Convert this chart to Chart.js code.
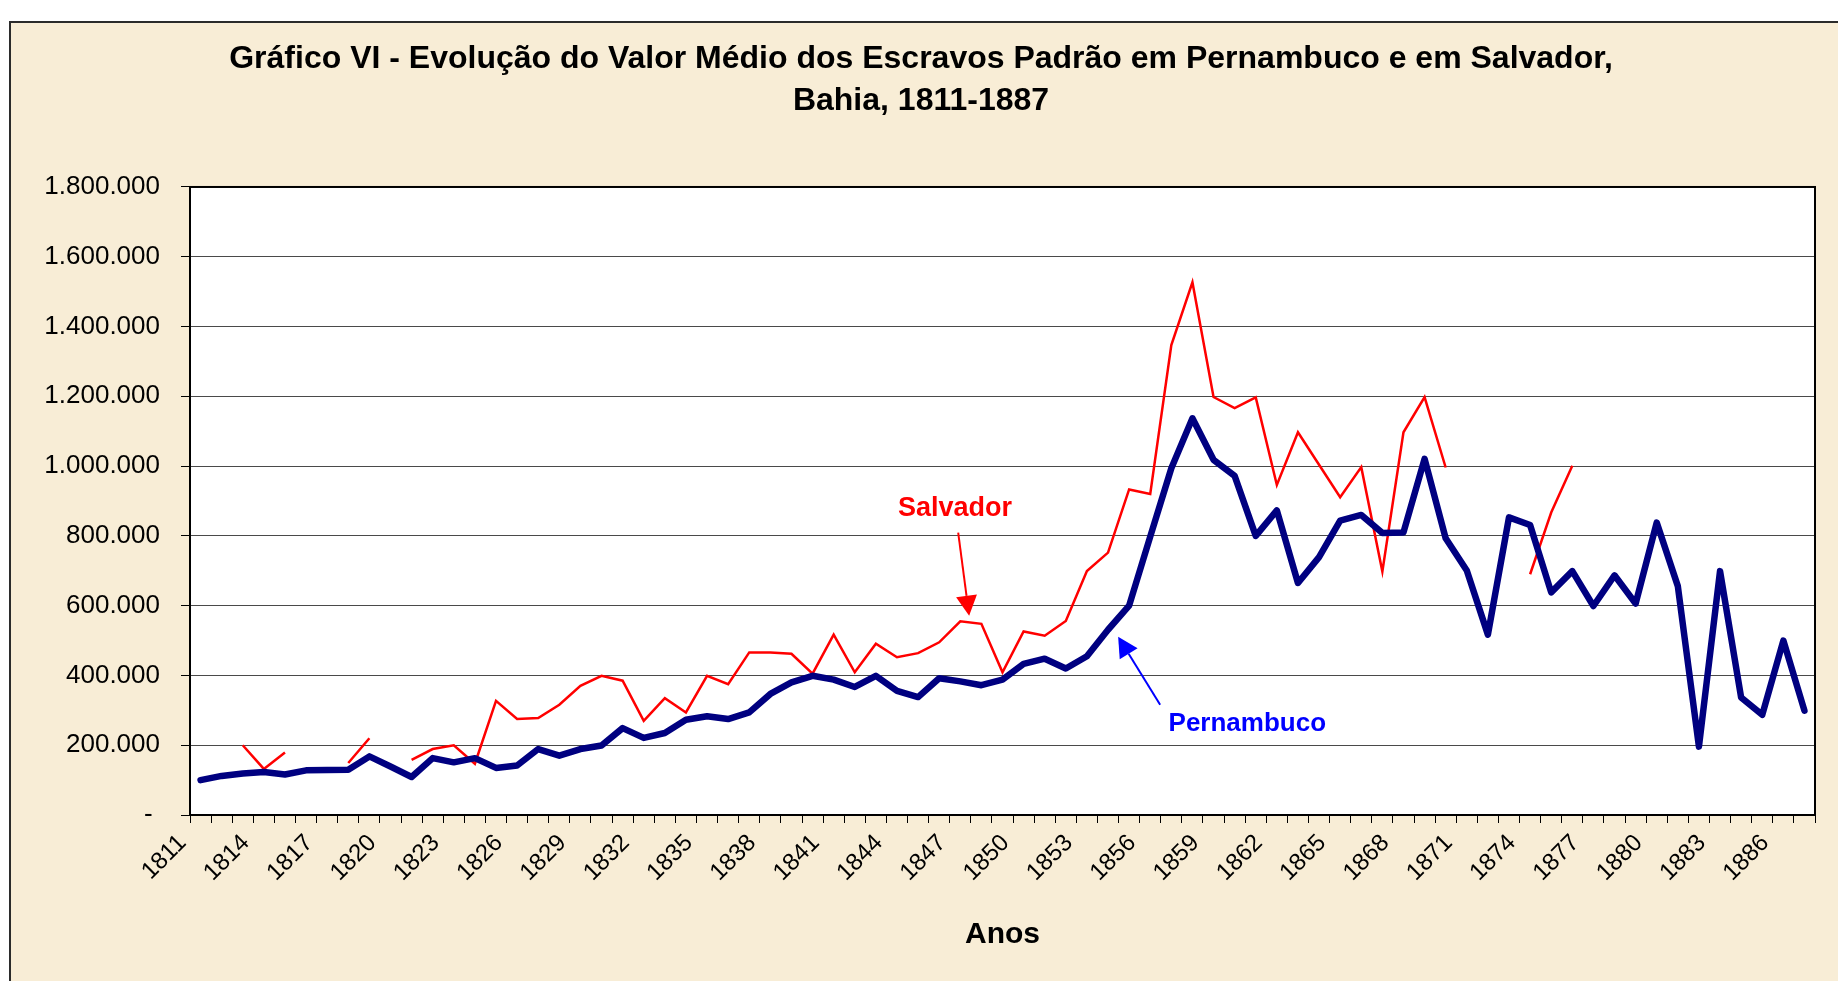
<!DOCTYPE html>
<html lang="pt">
<head>
<meta charset="utf-8">
<title>Gráfico VI</title>
<script src="https://cdn.jsdelivr.net/npm/chart.js@4.4.1/dist/chart.umd.min.js"></script>
<style>
  html, body { margin: 0; padding: 0; background: #ffffff; overflow: hidden; }
  #wrap { position: relative; width: 1838px; height: 981px; }
</style>
</head>
<body>
<div id="wrap"><canvas id="c"></canvas></div>
<script>
const years = ['1811','1812','1813','1814','1815','1816','1817','1818','1819','1820',
  '1821','1822','1823','1824','1825','1826','1827','1828','1829','1830',
  '1831','1832','1833','1834','1835','1836','1837','1838','1839','1840',
  '1841','1842','1843','1844','1845','1846','1847','1848','1849','1850',
  '1851','1852','1853','1854','1855','1856','1857','1858','1859','1860',
  '1861','1862','1863','1864','1865','1866','1867','1868','1869','1870',
  '1871','1872','1873','1874','1875','1876','1877','1878','1879','1880',
  '1881','1882','1883','1884','1885','1886','1887'];

const pernambuco = [100000,112000,119000,123000,116000,128000,129000,130000,168000,139000,
  109000,163000,151000,163000,135000,142000,189000,170000,189000,199000,
  249000,221000,235000,273000,283000,275000,294000,347000,380000,399000,
  388000,367000,399000,356000,338000,392000,383000,372000,388000,433000,
  448000,420000,455000,531000,600000,798000,994000,1137000,1018000,972000,
  800000,873000,665000,739000,844000,860000,808000,810000,1021000,793000,
  701000,517000,853000,831000,638000,699000,599000,687000,606000,838000,
  656000,196000,699000,337000,287000,500000,299000];

const salvador = [null,null,200000,132000,179000,null,null,149000,220000,null,
  158000,189000,200000,147000,327000,275000,278000,316000,370000,399000,
  385000,270000,335000,294000,399000,375000,466000,466000,462000,405000,
  517000,409000,491000,452000,464000,495000,555000,548000,409000,526000,
  514000,556000,699000,752000,933000,920000,1347000,1527000,1198000,1166000,
  1197000,946000,1097000,1004000,911000,997000,698000,1097000,1198000,996000,
  null,null,null,690000,867000,1001000,null,null,null,null,
  null,null,null,null,null,null,null];

const titleLines = ['Gráfico VI - Evolução do Valor Médio dos Escravos Padrão em Pernambuco e em Salvador,',
                    'Bahia, 1811-1887'];
const xTitle = 'Anos';
const seriesNames = ['Pernambuco', 'Salvador'];

const FONT = '"Liberation Sans", Arial, Helvetica, sans-serif';

function fmtThousands(v) {
  if (v === 0) return '- ';
  return String(v).replace(/\B(?=(\d{3})+(?!\d))/g, '.');
}

const pageBackground = {
  id: 'pageBackground',
  beforeDraw(chart) {
    const ctx = chart.ctx;
    ctx.save();
    ctx.fillStyle = '#ffffff';
    ctx.fillRect(0, 0, chart.width, chart.height);
    ctx.fillStyle = '#f8edd6';
    ctx.fillRect(10, 22, chart.width - 10, chart.height - 22);
    ctx.strokeStyle = '#2b2b2b';
    ctx.lineWidth = 2;
    ctx.beginPath();
    ctx.moveTo(10, chart.height);
    ctx.lineTo(10, 22);
    ctx.lineTo(chart.width, 22);
    ctx.stroke();
    const a = chart.chartArea;
    ctx.fillStyle = '#ffffff';
    ctx.fillRect(a.left, a.top, a.right - a.left, a.bottom - a.top);
    ctx.restore();
  },
  afterDraw(chart) {
    const ctx = chart.ctx, a = chart.chartArea;
    ctx.save();
    ctx.strokeStyle = '#000';
    ctx.lineWidth = 2;
    ctx.strokeRect(a.left, a.top, a.right - a.left, a.bottom - a.top);
    ctx.restore();
  }
};

const seriesNotes = {
  id: 'seriesNotes',
  afterDatasetsDraw(chart, args, opts) {
    const {ctx, scales: {x, y}} = chart;
    opts.notes.forEach(n => {
      const tx = x.getPixelForValue(n.at[0]), ty = y.getPixelForValue(n.at[1]);
      const x0 = x.getPixelForValue(n.from[0]), y0 = y.getPixelForValue(n.from[1]);
      const x1 = x.getPixelForValue(n.to[0]), y1 = y.getPixelForValue(n.to[1]);
      ctx.save();
      ctx.fillStyle = n.color;
      ctx.strokeStyle = n.color;
      ctx.font = 'bold ' + n.size + 'px ' + FONT;
      ctx.textAlign = 'center';
      ctx.textBaseline = 'middle';
      ctx.fillText(n.label, tx, ty);
      const ang = Math.atan2(y1 - y0, x1 - x0);
      const hl = 20, hw = 10.5;
      const bx = x1 - hl * Math.cos(ang), by = y1 - hl * Math.sin(ang);
      ctx.lineWidth = 2;
      ctx.beginPath();
      ctx.moveTo(x0, y0);
      ctx.lineTo(bx, by);
      ctx.stroke();
      ctx.beginPath();
      ctx.moveTo(x1, y1);
      ctx.lineTo(bx + hw * Math.sin(ang), by - hw * Math.cos(ang));
      ctx.lineTo(bx - hw * Math.sin(ang), by + hw * Math.cos(ang));
      ctx.closePath();
      ctx.fill();
      ctx.restore();
    });
  }
};

new Chart(document.getElementById('c'), {
  type: 'line',
  data: {
    labels: years,
    datasets: [
      {
        label: seriesNames[0],
        data: pernambuco,
        borderColor: '#000080',
        backgroundColor: '#000080',
        borderWidth: 6.5,
        pointRadius: 0,
        tension: 0,
        borderJoinStyle: 'round',
        borderCapStyle: 'round',
        order: 1
      },
      {
        label: seriesNames[1],
        data: salvador,
        borderColor: '#ff0000',
        backgroundColor: '#ff0000',
        borderWidth: 2.5,
        pointRadius: 0,
        tension: 0,
        spanGaps: false,
        borderJoinStyle: 'miter',
        order: 2
      }
    ]
  },
  options: {
    responsive: true,
    maintainAspectRatio: false,
    animation: false,
    events: [],
    layout: { padding: { left: 27, right: 23, top: 0, bottom: 0 } },
    plugins: {
      legend: { display: false },
      tooltip: { enabled: false },
      title: {
        display: true,
        text: titleLines,
        color: '#000',
        font: { family: FONT, size: 32, weight: 'bold', lineHeight: 1.32 },
        padding: { top: 38, bottom: 64.5 }
      },
      seriesNotes: {
        notes: [
          { label: seriesNames[1], color: '#ff0000', size: 27, at: [35.75, 877000], from: [35.9, 809000], to: [36.42, 571000] },
          { label: seriesNames[0], color: '#0000ff', size: 26, at: [49.6, 261000], from: [45.47, 316000], to: [43.48, 511000] }
        ]
      }
    },
    scales: {
      x: {
        type: 'category',
        offset: true,
        afterFit(scale) { scale.height = 166; },
        grid: {
          display: true,
          drawOnChartArea: false,
          drawTicks: true,
          tickLength: 8,
          color: '#000',
          offset: true
        },
        border: { display: true, color: '#000', width: 2 },
        ticks: {
          autoSkip: false,
          minRotation: 45,
          maxRotation: 45,
          padding: 6,
          labelOffset: -18,
          color: '#000',
          font: { family: FONT, size: 24 },
          callback(val, idx) { return idx % 3 === 0 ? years[idx] : ''; }
        },
        title: {
          display: true,
          text: xTitle,
          color: '#000',
          font: { family: FONT, size: 30, weight: 'bold' },
          padding: { top: 0, bottom: 28 }
        }
      },
      y: {
        min: 0,
        max: 1800000,
        afterFit(scale) { scale.width = 163; },
        grid: {
          color: '#4a4a4a',
          lineWidth: 1,
          drawTicks: true,
          tickLength: 9,
          tickColor: '#000'
        },
        border: { display: true, color: '#000', width: 2 },
        ticks: {
          stepSize: 200000,
          padding: 21,
          color: '#000',
          font: { family: FONT, size: 26 },
          callback: (v) => fmtThousands(v)
        }
      }
    }
  },
  plugins: [pageBackground, seriesNotes]
});
</script>
</body>
</html>
